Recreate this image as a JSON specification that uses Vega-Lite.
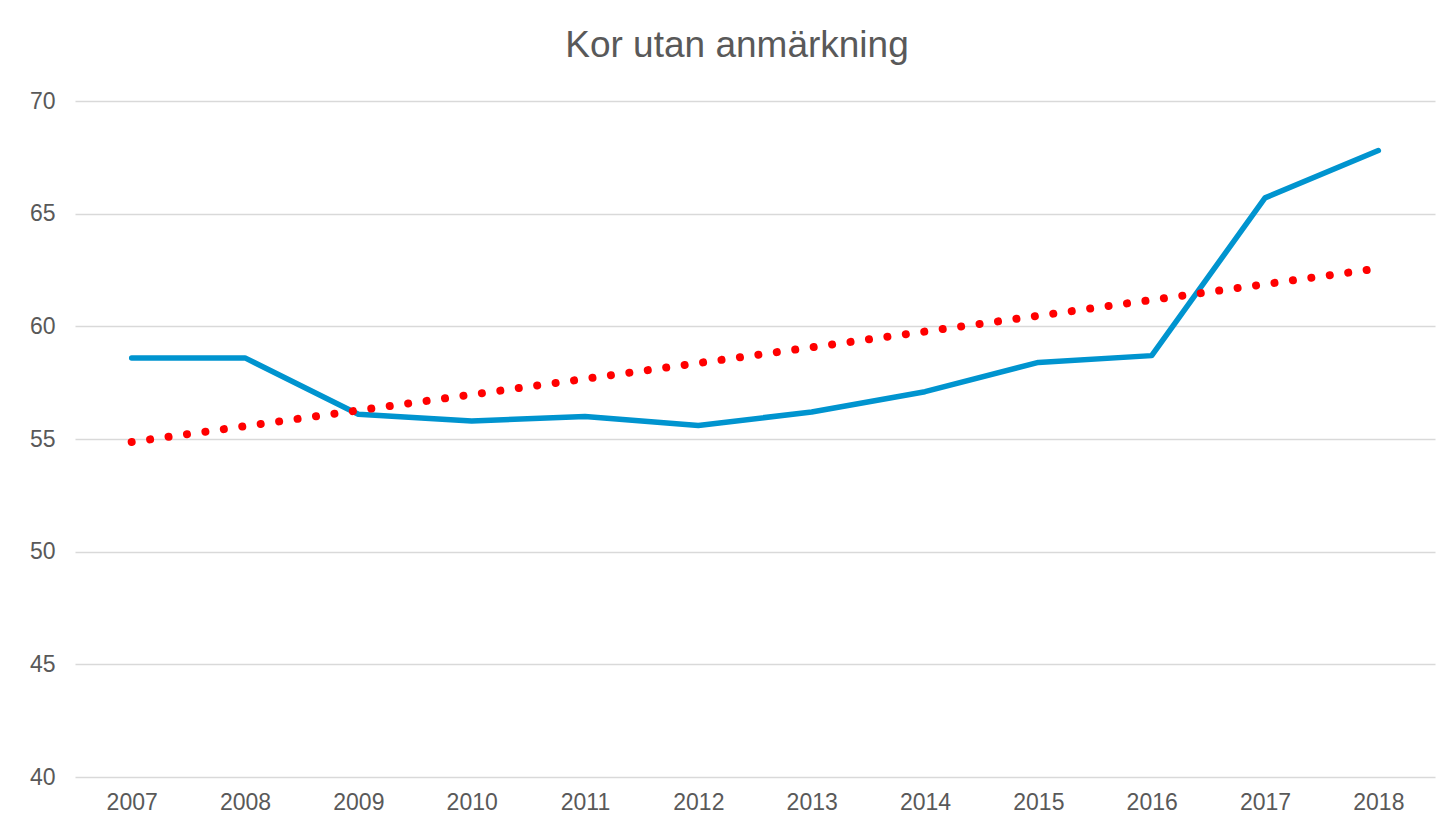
{
  "$schema": "https://vega.github.io/schema/vega-lite/v6.json",
  "width": 1360,
  "height": 676,
  "autosize": "none",
  "padding": {"left": 75, "top": 101, "right": 13, "bottom": 55},
  "background": "white",
  "title": {
    "text": "Kor utan anmärkning",
    "font": "Liberation Sans",
    "fontSize": 37,
    "fontWeight": "normal",
    "color": "#595959",
    "anchor": "middle",
    "dx": -18,
    "offset": 25
  },
  "config": {
    "view": {"stroke": null},
    "axis": {
      "labelFont": "Liberation Sans",
      "labelFontSize": 23,
      "labelColor": "#595959",
      "domain": false,
      "ticks": false,
      "title": null
    }
  },
  "data": {
    "values": [
      {"year": "2007", "value": 58.6, "trend": 54.87},
      {"year": "2008", "value": 58.6, "trend": 55.57},
      {"year": "2009", "value": 56.1, "trend": 56.27},
      {"year": "2010", "value": 55.8, "trend": 56.97},
      {"year": "2011", "value": 56.0, "trend": 57.67},
      {"year": "2012", "value": 55.6, "trend": 58.37},
      {"year": "2013", "value": 56.2, "trend": 59.07},
      {"year": "2014", "value": 57.1, "trend": 59.77},
      {"year": "2015", "value": 58.4, "trend": 60.47},
      {"year": "2016", "value": 58.7, "trend": 61.17},
      {"year": "2017", "value": 65.7, "trend": 61.87},
      {"year": "2018", "value": 67.8, "trend": 62.57}
    ]
  },
  "encoding": {
    "x": {
      "field": "year",
      "type": "ordinal",
      "scale": {"type": "point", "padding": 0.5},
      "axis": {"labelAngle": 0, "grid": false, "labelPadding": 14}
    }
  },
  "layer": [
    {
      "mark": {"type": "line", "color": "#0094CF", "strokeWidth": 5.5, "strokeCap": "round", "strokeJoin": "round"},
      "encoding": {
        "y": {
          "field": "value",
          "type": "quantitative",
          "scale": {"domain": [40, 70], "zero": false, "nice": false},
          "axis": {"values": [40, 45, 50, 55, 60, 65, 70], "grid": true, "gridColor": "#D9D9D9", "gridWidth": 1.5, "labelPadding": 20}
        }
      }
    },
    {
      "mark": {"type": "line", "color": "#FF0000", "strokeWidth": 8, "strokeCap": "round", "strokeDash": [0.01, 18.6]},
      "encoding": {
        "y": {"field": "trend", "type": "quantitative"}
      }
    }
  ]
}
